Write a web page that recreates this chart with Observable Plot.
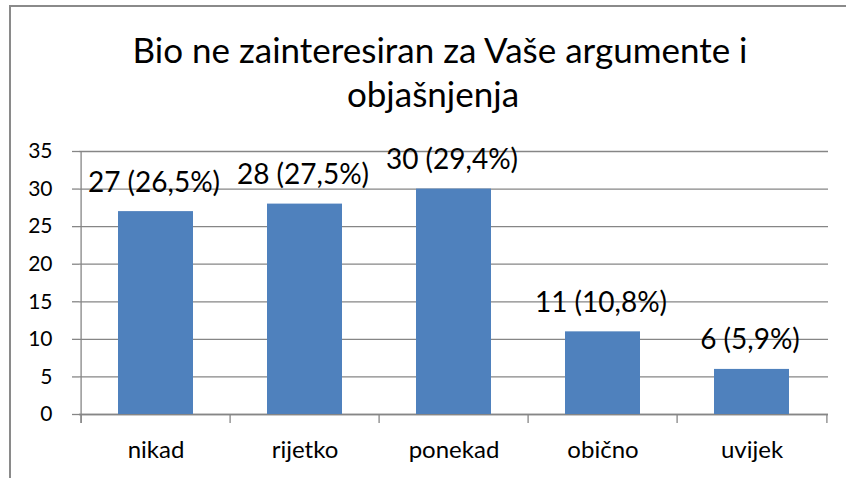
<!DOCTYPE html>
<html>
<head>
<meta charset="utf-8">
<script src="https://cdn.jsdelivr.net/npm/d3@7"></script>
<script src="https://cdn.jsdelivr.net/npm/@observablehq/plot@0.6"></script>
<style>
  html, body { margin: 0; padding: 0; background: #fff; overflow: hidden; }
  #wrap { position: relative; width: 846px; height: 478px; background: #fff; font-family: Lato, "Open Sans", sans-serif; }
  #frame { position: absolute; left: 9px; top: 5px; width: 900px; height: 600px; border-left: 2px solid #8a8a8a; border-top: 2px solid #8a8a8a; }
  .tline { position: absolute; width: 800px; text-align: center; font-size: 35px; line-height: 44px; color: #000; white-space: nowrap; }
  #t1 { left: 40px; top: 27px; }
  #t2 { left: 33px; top: 71px; }
  #chart { position: absolute; left: 0; top: 130px; }
</style>
</head>
<body>
<div id="wrap">
  <div id="frame"></div>
  <div class="tline" id="t1">Bio ne zainteresiran za Vaše argumente i</div>
  <div class="tline" id="t2">objašnjenja</div>
  <div id="chart"></div>
</div>
<script>
const categories = ["nikad", "rijetko", "ponekad", "obično", "uvijek"];
const counts = [27, 28, 30, 11, 6];
const labels = ["27 (26,5%)", "28 (27,5%)", "30 (29,4%)", "11 (10,8%)", "6 (5,9%)"];
const yTicks = [0, 5, 10, 15, 20, 25, 30, 35];

const data = categories.map((c, i) => ({category: c, count: counts[i], label: labels[i]}));

const W = 846, H = 348, mL = 79, mR = 18, mT = 21, mB = 64;
const step = (W - mL - mR) / categories.length;
const gray = "#868686";

const chart = Plot.plot({
  width: W, height: H,
  marginLeft: mL, marginRight: mR, marginTop: mT, marginBottom: mB,
  style: {fontFamily: "Lato, 'Open Sans', sans-serif", color: "#000", background: "transparent", overflow: "visible"},
  x: {domain: categories, paddingInner: 0.5, paddingOuter: 0.25, axis: null},
  y: {domain: [0, 35], axis: null},
  marks: [
    Plot.gridY(yTicks, {stroke: gray, strokeOpacity: 1, strokeWidth: 1.3}),
    Plot.axisY(yTicks, {tickSize: 7, tickPadding: 20, fontSize: 21, stroke: gray, strokeWidth: 1.3, fill: "#000", label: null}),
    Plot.ruleX([categories[0]], {x: d => d, y1: -1.2, y2: 35, dx: -step / 2, stroke: gray, strokeWidth: 1.3}),
    Plot.ruleX(categories, {x: d => d, y1: 0, y2: -1.2, dx: -step / 2, stroke: gray, strokeWidth: 1.3}),
    Plot.ruleX([categories[categories.length - 1]], {x: d => d, y1: 0, y2: -1.2, dx: step / 2, stroke: gray, strokeWidth: 1.3}),
    Plot.ruleY([0], {stroke: gray, strokeWidth: 1.3}),
    Plot.barY(data, {x: "category", y: "count", fill: "#4F81BD"}),
    Plot.text(data, {x: "category", y: "count", text: "label", fontSize: 28, lineAnchor: "middle", dy: -29, dx: -2, fill: "#000"}),
    Plot.axisX(categories, {tickSize: 0, tickPadding: 26, fontSize: 24, fill: "#000", label: null})
  ]
});
document.getElementById("chart").appendChild(chart);
</script>
</body>
</html>
